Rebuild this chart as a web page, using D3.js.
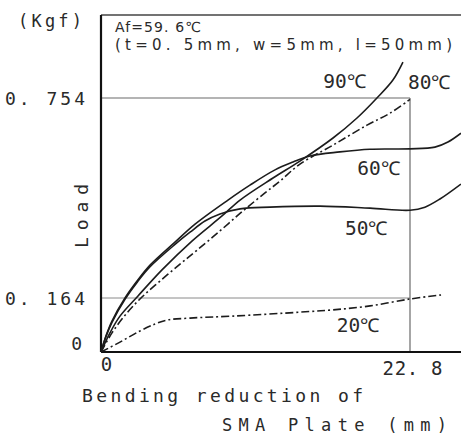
<!DOCTYPE html>
<html>
<head>
<meta charset="utf-8">
<script src="https://cdn.jsdelivr.net/npm/d3@7"></script>
<style>
  html, body { margin: 0; padding: 0; background: #fff; }
  svg { display: block; }
  text { font-family: "DejaVu Sans Mono", "Liberation Mono", monospace; fill: #2a2a2a; }
</style>
</head>
<body>
<svg id="chart" width="461" height="436"></svg>
<script>
// ---- data (x: bending reduction in mm, y: load in Kgf) ----
const xTicks = [0, 22.8];
const yTicks = [0, 0.164, 0.754];

const t90x = [0, 0.66, 1.40, 2.73, 4.50, 6.71, 8.93, 10.26, 12.69, 14.68, 17.12, 18.89, 20.36, 21.54, 22.28];
const t90y = [0, 0.058, 0.109, 0.170, 0.247, 0.332, 0.406, 0.453, 0.518, 0.568, 0.636, 0.695, 0.754, 0.807, 0.860];

const t80x = [0, 0.81, 1.84, 2.95, 4.35, 5.83, 7.08, 8.78, 10.48, 12.10, 13.21, 14.68, 17.12, 19.63, 21.32, 22.8];
const t80y = [0, 0.058, 0.115, 0.164, 0.214, 0.264, 0.305, 0.362, 0.421, 0.474, 0.509, 0.559, 0.615, 0.674, 0.709, 0.750];

const t60x = [0, 0.37, 0.81, 1.77, 2.66, 3.62, 5.46, 6.94, 9.37, 10.99, 12.84, 14.17, 15.42, 17.63, 19.85, 22.8, 24.64, 25.6, 26.56];
const t60y = [0, 0.049, 0.094, 0.164, 0.214, 0.261, 0.329, 0.382, 0.453, 0.497, 0.542, 0.565, 0.583, 0.595, 0.603, 0.604, 0.609, 0.624, 0.650];

const t50x = [0, 0.37, 0.81, 1.77, 2.66, 3.62, 5.46, 6.57, 7.67, 8.78, 10.26, 12.47, 16.16, 19.85, 22.8, 23.9, 25.01, 26.56];
const t50y = [0, 0.047, 0.090, 0.160, 0.210, 0.256, 0.322, 0.358, 0.391, 0.412, 0.427, 0.432, 0.435, 0.429, 0.423, 0.432, 0.456, 0.500];

const t20x = [0, 1.40, 2.88, 3.98, 4.87, 6.57, 9.74, 14.68, 17.12, 19.85, 22.8, 25.09];
const t20y = [0, 0.030, 0.064, 0.085, 0.097, 0.103, 0.109, 0.121, 0.128, 0.140, 0.161, 0.173];

const seriesNames = ["90℃", "80℃", "60℃", "50℃", "20℃"];
const seriesX = [t90x, t80x, t60x, t50x, t20x];
const seriesY = [t90y, t80y, t60y, t50y, t20y];
const seriesDash = [null, "8,3,2,3", null, null, "8,3,2,3"];
// label anchor positions in data units
const labelX = [16.4, 22.65, 18.9, 18.0, 17.4];
const labelY = [0.804, 0.801, 0.547, 0.370, 0.082];

// ---- chart ----
const svg = d3.select("#chart");
const x = d3.scaleLinear().domain([0, 22.8]).range([101, 410]);
const y = d3.scaleLinear().domain([0, 0.164, 0.754]).range([352, 298, 98]);
const xRight = 461, yTop = 15;

// reference lines
svg.append("line").attr("x1", x(0)).attr("x2", x(22.8)).attr("y1", y(0.754)).attr("y2", y(0.754))
  .attr("stroke", "#6a6a6a").attr("stroke-width", 1.2);
svg.append("line").attr("x1", x(0)).attr("x2", x(22.8)).attr("y1", y(0.164)).attr("y2", y(0.164))
  .attr("stroke", "#8a8a8a").attr("stroke-width", 1);
svg.append("line").attr("x1", x(22.8)).attr("x2", x(22.8)).attr("y1", y(0.754)).attr("y2", y(0))
  .attr("stroke", "#6a6a6a").attr("stroke-width", 1.2);

// frame
svg.append("line").attr("x1", x(0)).attr("x2", xRight).attr("y1", yTop).attr("y2", yTop)
  .attr("stroke", "#444").attr("stroke-width", 1.5);
svg.append("line").attr("x1", x(0)).attr("x2", x(0)).attr("y1", yTop).attr("y2", y(0))
  .attr("stroke", "#111").attr("stroke-width", 2.2);
svg.append("line").attr("x1", x(0)).attr("x2", xRight).attr("y1", y(0)).attr("y2", y(0))
  .attr("stroke", "#111").attr("stroke-width", 2.2);

const fmt = d => d === 0 ? "0" : String(d).replace(".", ". ");

// y axis labels
const yAxis = d3.axisLeft(y).tickValues(yTicks).tickSize(0).tickPadding(16).tickFormat(fmt);
const gy = svg.append("g").attr("transform", `translate(${x(0)},0)`).call(yAxis);
gy.select(".domain").remove();
gy.selectAll("text").attr("font-size", 18).style("font-family", "DejaVu Sans Mono, monospace")
  .attr("fill", "#2a2a2a").attr("dy", "0.35em")
  .each(function(d) {
    const s = d3.select(this);
    if (d !== 0) s.attr("textLength", 80).attr("lengthAdjust", "spacing");
    else s.attr("dy", "-0.15em").attr("x", -19);
  });

// x axis labels
const xAxis = d3.axisBottom(x).tickValues(xTicks).tickSize(0).tickPadding(6).tickFormat(fmt);
const gx = svg.append("g").attr("transform", `translate(0,${y(0)})`).call(xAxis);
gx.select(".domain").remove();
gx.selectAll("text").attr("font-size", 19).style("font-family", "DejaVu Sans Mono, monospace")
  .attr("fill", "#2a2a2a")
  .each(function(d) {
    const s = d3.select(this);
    if (d === 0) s.attr("dx", 5);
    else s.attr("textLength", 60).attr("lengthAdjust", "spacing").attr("dx", 2).attr("y", 10);
  });

// curves
const line = d3.line().x(p => x(p[0])).y(p => y(p[1])).curve(d3.curveCatmullRom.alpha(0.5));
seriesNames.forEach((name, i) => {
  const pts = seriesX[i].map((v, j) => [v, seriesY[i][j]]);
  const path = svg.append("path").datum(pts).attr("d", line)
    .attr("fill", "none").attr("stroke", "#1c1c1c").attr("stroke-width", 1.6);
  if (seriesDash[i]) path.attr("stroke-dasharray", seriesDash[i]);
  svg.append("text").attr("x", x(labelX[i])).attr("y", y(labelY[i]))
    .attr("font-size", 19).attr("textLength", 43).attr("lengthAdjust", "spacingAndGlyphs")
    .attr("dy", "0.35em").text(name);
});

// texts (px, py = left, baseline)
function txt(str, px, py, size, len, family) {
  const t = svg.append("text").attr("x", px).attr("y", py).attr("font-size", size).text(str);
  if (len) t.attr("textLength", len).attr("lengthAdjust", "spacing");
  if (family) t.style("font-family", family);
  return t;
}
txt("(Kgf)", 18, 27, 17, 64);
txt("Af=59. 6℃", 115, 32, 14, 86, "DejaVu Sans, sans-serif");
txt("(t=0. 5mm, w=5mm, l=50mm)", 115, 50, 15, 337, "DejaVu Sans, sans-serif");
svg.append("text").attr("transform", "translate(82,216) rotate(-90)").attr("text-anchor", "middle")
  .attr("font-size", 18).attr("dy", "0.35em").attr("textLength", 64).attr("lengthAdjust", "spacing").text("Load");
txt("Bending reduction of", 82, 402, 18, 281);
txt("SMA Plate  (mm)", 222, 431, 17, 225);
</script>
</body>
</html>
